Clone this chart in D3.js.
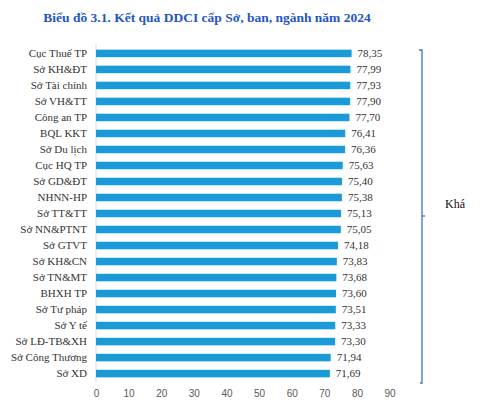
<!DOCTYPE html>
<html>
<head>
<meta charset="utf-8">
<script src="https://cdn.jsdelivr.net/npm/d3@7"></script>
<style>
  body { margin: 0; background: #fff; }
  svg { display: block; }
  .serif { font-family: "Liberation Serif", "Times New Roman", Times, "DejaVu Serif", serif; }
  .sans { font-family: "Liberation Sans", Arial, sans-serif; }
</style>
</head>
<body>
<svg id="chart" width="491" height="410"></svg>
<script>
"use strict";

var units = ["Cục Thuế TP", "Sở KH&ĐT", "Sở Tài chính", "Sở VH&TT", "Công an TP", "BQL KKT",
  "Sở Du lịch", "Cục HQ TP", "Sở GD&ĐT", "NHNN-HP", "Sở TT&TT", "Sở NN&PTNT", "Sở GTVT",
  "Sở KH&CN", "Sở TN&MT", "BHXH TP", "Sở Tư pháp", "Sở Y tế", "Sở LĐ-TB&XH",
  "Sở Công Thương", "Sở XD"];
var scores = [78.35, 77.99, 77.93, 77.90, 77.70, 76.41, 76.36, 75.63, 75.40, 75.38, 75.13,
  75.05, 74.18, 73.83, 73.68, 73.60, 73.51, 73.33, 73.30, 71.94, 71.69];
var xTicks = [0, 10, 20, 30, 40, 50, 60, 70, 80, 90];
var groupLabel = "Khá";

var svg = d3.select("#chart");

var x = d3.scaleLinear().domain([0, 90]).range([96, 389.6]);
var y = d3.scaleBand().domain(units).range([45.5, 381.5]).paddingInner(0.53).paddingOuter(0.26);

// title
svg.append("text")
  .attr("class", "serif")
  .attr("x", 207).attr("y", 22)
  .attr("text-anchor", "middle")
  .attr("font-weight", "bold")
  .attr("font-size", "13.5px")
  .attr("fill", "#2456c4")
  .text("Biểu đồ 3.1. Kết quả DDCI cấp Sở, ban, ngành năm 2024");

// vertical axis line
svg.append("line")
  .attr("x1", x(0)).attr("x2", x(0))
  .attr("y1", 44).attr("y2", 382)
  .attr("stroke", "#d9d9d9").attr("stroke-width", 1);

var rows = units.map(function (d, i) { return { name: d, value: scores[i] }; });

svg.selectAll("rect.bar")
  .data(rows)
  .enter().append("rect")
  .attr("class", "bar")
  .attr("x", x(0))
  .attr("y", function (d) { return y(d.name); })
  .attr("width", function (d) { return x(d.value) - x(0); })
  .attr("height", y.bandwidth())
  .attr("fill", "#1a9ad6");

// category labels
svg.selectAll("text.cat")
  .data(rows)
  .enter().append("text")
  .attr("class", "cat serif")
  .attr("x", 87)
  .attr("y", function (d) { return y(d.name) + y.bandwidth() / 2; })
  .attr("dy", "0.35em")
  .attr("text-anchor", "end")
  .attr("font-size", "11px")
  .attr("fill", "#333")
  .text(function (d) { return d.name; });

// value labels
svg.selectAll("text.val")
  .data(rows)
  .enter().append("text")
  .attr("class", "val serif")
  .attr("x", function (d) { return x(d.value) + 6; })
  .attr("y", function (d) { return y(d.name) + y.bandwidth() / 2; })
  .attr("dy", "0.35em")
  .attr("font-size", "11px")
  .attr("fill", "#333")
  .text(function (d) { return d.value.toFixed(2).replace(".", ","); });

// x axis
var xAxis = svg.append("g")
  .attr("transform", "translate(0,386)")
  .call(d3.axisBottom(x).tickValues(xTicks).tickSize(0).tickPadding(4));
xAxis.select(".domain").remove();
xAxis.attr("font-family", null).attr("font-size", null);
xAxis.selectAll("text")
  .attr("class", "sans")
  .attr("font-size", "10px")
  .attr("fill", "#595959");

// bracket
var bx = 422;
var bracket = svg.append("g").attr("stroke", "#4a6fc8").attr("stroke-width", 1.3).attr("fill", "none");
bracket.append("path").attr("d", "M" + (bx - 3) + ",50 H" + bx + " V383 H" + (bx - 2));
bracket.append("line").attr("x1", bx).attr("x2", bx + 3).attr("y1", 216).attr("y2", 216);

svg.append("text")
  .attr("class", "serif")
  .attr("x", 455).attr("y", 208)
  .attr("text-anchor", "middle")
  .attr("font-size", "12px")
  .attr("fill", "#111")
  .text(groupLabel);
</script>
</body>
</html>
